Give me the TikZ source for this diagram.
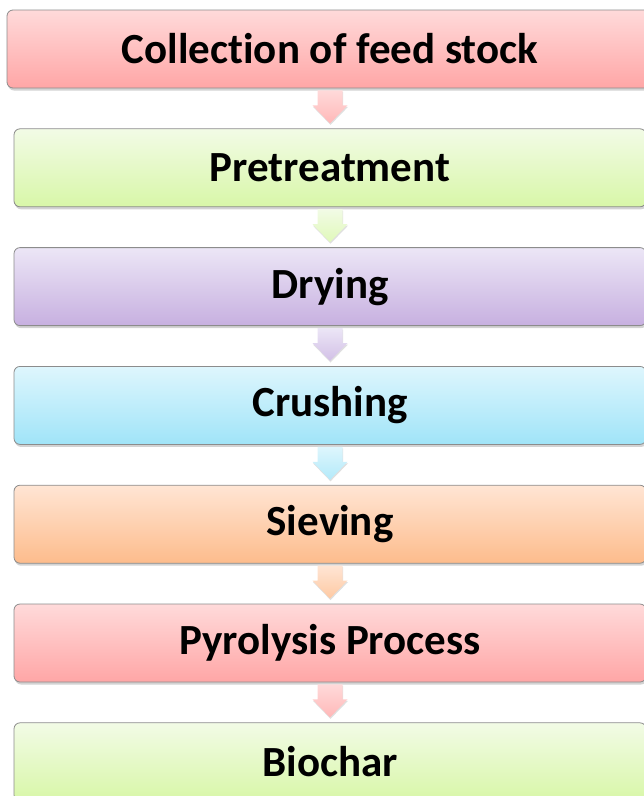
\documentclass[tikz,border=0pt]{standalone}
\usepackage{fontspec}
\setmainfont[Ligatures=NoCommon]{Carlito}
\usetikzlibrary{positioning,shadows,calc}
\definecolor{rosetop}{RGB}{255, 218, 218}
\definecolor{rosebot}{RGB}{255, 166, 166}
\definecolor{limetop}{RGB}{242, 251, 230}
\definecolor{limebot}{RGB}{216, 247, 168}
\definecolor{liltop}{RGB}{236, 230, 246}
\definecolor{lilbot}{RGB}{199, 176, 224}
\definecolor{skytop}{RGB}{222, 246, 253}
\definecolor{skybot}{RGB}{160, 228, 248}
\definecolor{peachtop}{RGB}{255, 229, 212}
\definecolor{peachbot}{RGB}{253, 188, 140}

\tikzset{
  stepbox/.style={draw=black!45, line width=0.8pt, rounded corners=6pt,
    minimum width=632pt, minimum height=78pt, inner sep=0pt,
    font=\fontsize{43}{50}\selectfont\bfseries,
    drop shadow={shadow xshift=1pt, shadow yshift=-2.5pt, opacity=0.35}},
  rose/.style={top color=rosetop, bottom color=rosebot},
  lime/.style={top color=limetop, bottom color=limebot},
  lilac/.style={top color=liltop, bottom color=lilbot},
  sky/.style={top color=skytop, bottom color=skybot},
  peach/.style={top color=peachtop, bottom color=peachbot}
}

% block arrow from one box down to the next
\newcommand{\flowarrow}[3]{%
  \shade[top color=#3top, bottom color=#3bot!80!white,
    drop shadow={shadow xshift=0.5pt, shadow yshift=-1.5pt, opacity=0.25}]
    ($(#1.south)+(-12.5pt,-2pt)$) -- ($(#1.south)+(12.5pt,-2pt)$)
    -- ($(#1.south)+(12.5pt,-17pt)$) -- ($(#1.south)+(17.5pt,-17pt)$)
    -- ($(#2.north)+(0,5pt)$)
    -- ($(#1.south)+(-17.5pt,-17pt)$) -- ($(#1.south)+(-12.5pt,-17pt)$) -- cycle;}

\begin{document}
\begin{tikzpicture}
  \useasboundingbox (0,0) rectangle (644pt,-796pt);
  \clip (0,0) rectangle (644pt,-796pt);
  % Steps
  \node[stepbox, rose, minimum width=646pt] (collect) at (330pt,-49pt) {Collection of feed stock};
  \node[stepbox, lime]  (pretreat) [below=40pt of collect]  {Pretreatment};
  \node[stepbox, lilac] (drying)   [below=40pt of pretreat] {Drying};
  \node[stepbox, sky]   (crushing) [below=40pt of drying]   {Crushing};
  \node[stepbox, peach] (sieving)  [below=40pt of crushing] {Sieving};
  \node[stepbox, rose]  (pyrolysis)[below=40pt of sieving]  {Pyrolysis Process};
  \node[stepbox, lime]  (biochar)  [below=40pt of pyrolysis]{Biochar};
  % Arrows
  \flowarrow{collect}{pretreat}{rose}
  \flowarrow{pretreat}{drying}{lime}
  \flowarrow{drying}{crushing}{lil}
  \flowarrow{crushing}{sieving}{sky}
  \flowarrow{sieving}{pyrolysis}{peach}
  \flowarrow{pyrolysis}{biochar}{rose}
\end{tikzpicture}
\end{document}
